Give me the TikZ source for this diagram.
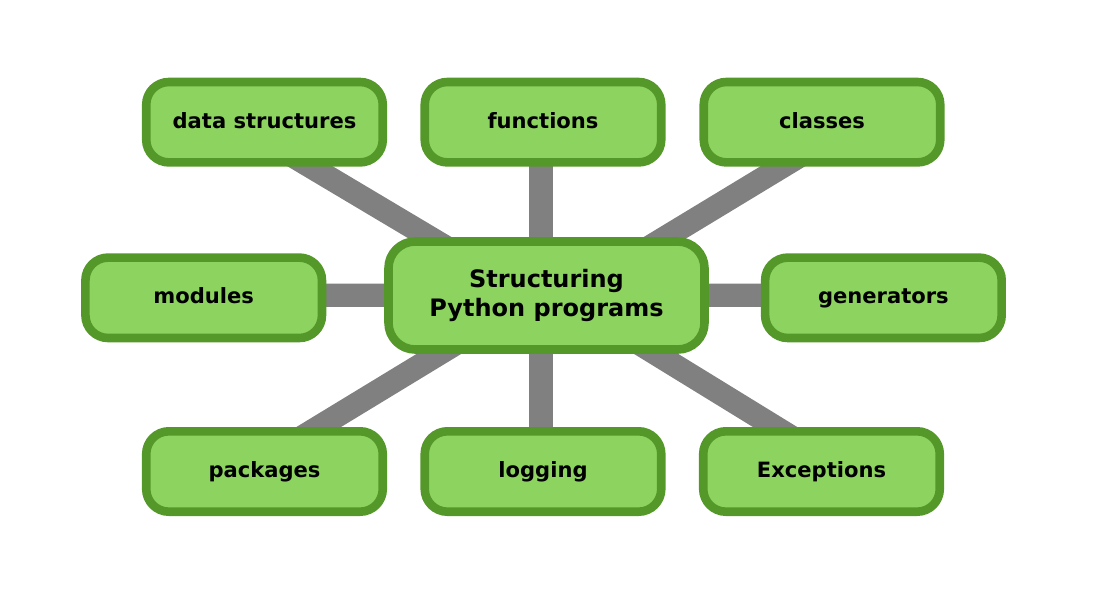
\documentclass[tikz,border=0pt]{standalone}
\usepackage{fontspec}
\setmainfont{DejaVu Sans}
\usetikzlibrary{calc,backgrounds}
\definecolor{leaf}{RGB}{141,211,95}
\definecolor{leafedge}{RGB}{85,152,42}
\definecolor{linkgray}{RGB}{128,128,128}
\begin{document}
\begin{tikzpicture}[x=.75pt,y=-.75pt,
		topic/.style={draw=leafedge,fill=leaf,line width=6.45pt,rounded corners=17pt,
			minimum width=177.4pt,minimum height=60.3pt,inner sep=0pt,
			text height=.97em,text depth=.09em,
			font=\fontsize{15.8}{19}\selectfont\bfseries},
		hubbox/.style={topic,minimum width=237pt,minimum height=81pt,rounded corners=20pt,
			text height=,text depth=,
			align=center,font=\fontsize{18}{21.2}\selectfont\bfseries},
		link/.style={draw=linkgray,line width=17.4pt}]
				\useasboundingbox (0,0) rectangle (1094,591);
				% nodes
				\node[hubbox] (hub) at (546.5,295.5) {Structuring\\Python programs};
				\node[topic] (datastr) at (264.5,122.2) {data structures};
				\node[topic] (funcs) at (543,122.2) {functions};
				\node[topic] (classes) at (822,122.2) {classes};
				\node[topic] (modules) at (203.7,297.8) {modules};
				\node[topic] (gens) at (883.4,297.8) {generators};
				\node[topic] (pkgs) at (264.5,471.5) {packages};
				\node[topic] (logging) at (543,471.5) {logging};
				\node[topic] (excs) at (821.5,471.5) {Exceptions};
				% links behind the boxes
				\begin{scope}[on background layer]
					\draw[link] ($(hub)+(-19.5,0)$) -- ($(datastr)+(-28.5,0)$);
					\draw[link] ($(hub)+(-5.5,0)$) -- ($(funcs)+(-2,0)$);
					\draw[link] ($(hub)+(23,0)$) -- ($(classes)+(33.6,0)$);
					\draw[link] ($(hub)+(0,-.2)$) -- ($(modules)+(0,-2.5)$);
					\draw[link] ($(hub)+(0,-.2)$) -- ($(gens)+(0,-2.5)$);
					\draw[link] ($(hub)+(-11.5,0)$) -- ($(pkgs)+(-19,0)$);
					\draw[link] ($(hub)+(-5.5,0)$) -- ($(logging)+(-2,0)$);
					\draw[link] ($(hub)+(14.5,0)$) -- ($(excs)+(26,0)$);
				\end{scope}
			\end{tikzpicture}
\end{document}
